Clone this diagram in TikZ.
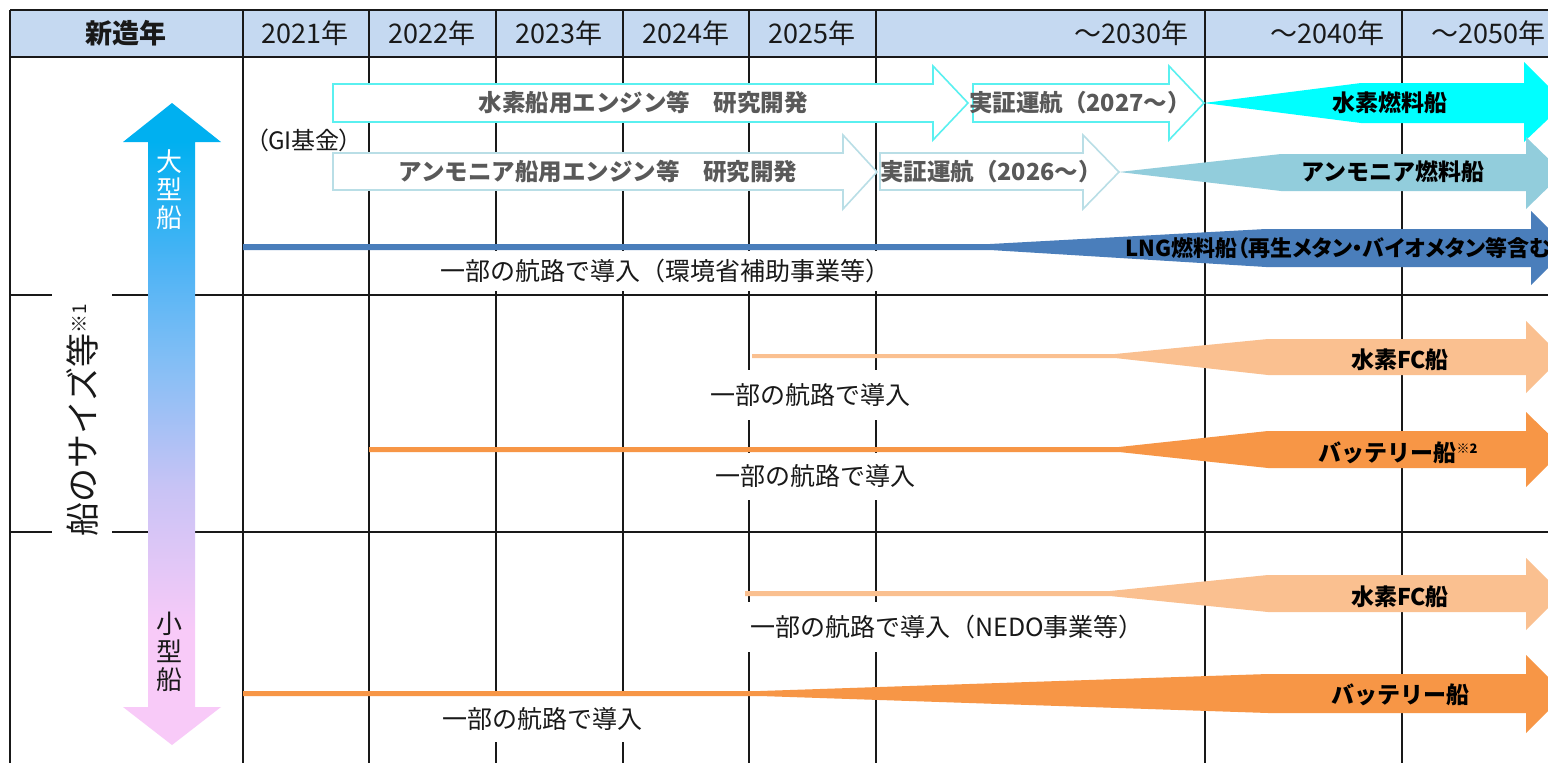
\documentclass[tikz,border=0pt]{standalone}
\usepackage{fontspec}
\setmainfont{Noto Sans CJK JP}
\newfontfamily\propjp{Noto Sans CJK JP}[RawFeature=+palt]
\definecolor{hdrfill}{RGB}{197,217,241}
\definecolor{hcyan}{RGB}{0,255,255}
\definecolor{hcyanline}{RGB}{90,240,240}
\definecolor{amline}{RGB}{185,222,230}
\definecolor{amfill}{RGB}{146,205,220}
\definecolor{lngfill}{RGB}{74,126,187}
\definecolor{fcfill}{RGB}{250,192,144}
\definecolor{batfill}{RGB}{247,150,70}
\definecolor{rdtext}{RGB}{89,89,89}
\definecolor{gridc}{RGB}{25,25,25}
\definecolor{txtc}{RGB}{25,25,25}
\definecolor{shpk}{RGB}{248,202,248}
\definecolor{shlv}{RGB}{200,195,245}
\definecolor{shlba}{RGB}{130,190,245}
\definecolor{shlbb}{RGB}{80,180,245}
\definecolor{shbl}{RGB}{0,176,240}
\pgfdeclareverticalshading{sizeshade}{100bp}{color(0bp)=(shpk); color(25bp)=(shpk); color(34bp)=(shpk); color(45bp)=(shlv); color(55bp)=(shlba); color(62bp)=(shlbb); color(72bp)=(shbl); color(100bp)=(shbl)}
\tikzset{
  gridline/.style={draw=gridc, line width=1.8pt},
  hdrtext/.style={font=\fontsize{27}{30}\selectfont, text=txtc, inner sep=0pt},
  rdH/.style={draw=hcyanline, fill=white, line width=1.6pt},
  rdA/.style={draw=amline, fill=white, line width=1.6pt},
  rdtxt/.style={font=\bfseries\fontsize{23.5}{26}\selectfont, text=rdtext, inner sep=0pt},
  shiptxt/.style={font=\bfseries\fontsize{23}{26}\selectfont, text=black, inner sep=0pt},
  lbl/.style={font=\fontsize{25}{28}\selectfont, text=txtc, fill=white, inner xsep=5pt, inner ysep=0pt},
}
\begin{document}
\begin{tikzpicture}[x=1pt, y=-1pt]
\useasboundingbox (0,0) rectangle (1548,763);
\fill[white] (0,0) rectangle (1548,763);
% header
\fill[hdrfill] (10,10) rectangle (1548,57);
% grid
\draw[gridline] (10,10) -- (1548,10);
\draw[gridline] (10,57) -- (1548,57);
\draw[gridline] (10,295) -- (1548,295);
\draw[gridline] (10,532) -- (1548,532);
\foreach \gx in {10,243,369,496,623,749,876,1205,1402}
  \draw[gridline] (\gx,10) -- (\gx,763);
% header texts
\node[hdrtext, font=\bfseries\fontsize{27}{30}\selectfont] (h0) at (126,33) {新造年};
\node[hdrtext] (h1) at (305,33) {2021年};
\node[hdrtext] (h2) at (432,33) {2022年};
\node[hdrtext] (h3) at (559,33) {2023年};
\node[hdrtext] (h4) at (686,33) {2024年};
\node[hdrtext] (h5) at (812,33) {2025年};
\node[hdrtext, anchor=east] (h6) at (1189,33) {～2030年};
\node[hdrtext, anchor=east] (h7) at (1385,33) {～2040年};
\node[hdrtext, anchor=west] (h8) at (1431,33) {～2050年};
% size axis label
\node[rotate=90, fill=white, minimum width=262pt, minimum height=60pt, inner sep=0pt,
      font=\fontsize{34}{36}\selectfont, text=txtc] (axis) at (82,420)
  {船のサイズ等\raisebox{9pt}{\fontsize{19}{20}\selectfont ※1}};
% gradient arrow
\shade[shading=sizeshade] (148,142) -- (123,142) -- (172,103) -- (221,142) -- (195,142)
  -- (195,707) -- (221,707) -- (172,745) -- (123,707) -- (148,707) -- cycle;
\node[font=\fontsize{26}{28}\selectfont, text=white, align=center, inner sep=0pt] (big) at (169,190) {大\\型\\船};
\node[font=\fontsize{26}{28}\selectfont, text=txtc, align=center, inner sep=0pt] (small) at (169,652) {小\\型\\船};
% labels with white background
\node[lbl, minimum height=40pt] (l1) at (665,271) {一部の航路で導入（環境省補助事業等）};
\node[lbl, minimum height=50pt] (l2) at (810,395) {一部の航路で導入};
\node[lbl, minimum height=47pt] (l3) at (815,476) {一部の航路で導入};
\node[lbl, minimum height=50pt] (l4) at (947,627) {一部の航路で導入（NEDO事業等）};
\node[lbl, minimum height=46pt] (l5) at (542,719) {一部の航路で導入};
\node[font=\propjp\fontsize{24}{26}\selectfont, text=txtc, inner sep=0pt] (gi) at (304,140) {（GI基金）};
% outline R&D arrows
\draw[rdH] (333,84) -- (933,84) -- (933,66) -- (968,103) -- (933,140) -- (933,122) -- (333,122) -- cycle;
\draw[rdH] (973,84) -- (1169,84) -- (1169,66) -- (1204,103) -- (1169,140) -- (1169,122) -- (973,122) -- cycle;
\draw[rdA] (333,153) -- (843,153) -- (843,135) -- (877,172) -- (843,209) -- (843,190) -- (333,190) -- cycle;
\draw[rdA] (880,153) -- (1083,153) -- (1083,135) -- (1119,172) -- (1083,209) -- (1083,190) -- (880,190) -- cycle;
\node[rdtxt] (rd1) at (643,103) {水素船用エンジン等　研究開発};
\node[rdtxt] (dm1) at (1080,103) {実証運航（2027～）};
\node[rdtxt] (rd2) at (598,172) {アンモニア船用エンジン等　研究開発};
\node[rdtxt] (dm2) at (991,172) {実証運航（2026～）};
% solid fuel arrows
\fill[hcyan] (1204,103) -- (1361,83) -- (1524,83) -- (1524,62) -- (1565,103) -- (1524,142) -- (1524,123) -- (1361,123) -- cycle;
\fill[amfill] (1119,172) -- (1281,154) -- (1526,154) -- (1526,137) -- (1563,173) -- (1526,209) -- (1526,191) -- (1281,191) -- cycle;
\fill[lngfill] (243,244) -- (990,244) -- (1266,229) -- (1531,229) -- (1531,211) -- (1568,248) -- (1531,285) -- (1531,267) -- (1266,267) -- (990,250) -- (243,250) -- cycle;
\fill[fcfill] (752,354) -- (1115,354) -- (1268,339) -- (1526,339) -- (1526,321) -- (1562,357) -- (1526,393) -- (1526,375) -- (1268,375) -- (1115,358) -- (752,358) -- cycle;
\fill[batfill] (369,447) -- (1119,447) -- (1268,431) -- (1526,431) -- (1526,412) -- (1564,449) -- (1526,487) -- (1526,468) -- (1268,468) -- (1119,452) -- (369,452) -- cycle;
\fill[fcfill] (745,591) -- (1110,591) -- (1268,575) -- (1526,575) -- (1526,558) -- (1562,594) -- (1526,630) -- (1526,612) -- (1268,612) -- (1110,596) -- (745,596) -- cycle;
\fill[batfill] (243,691) -- (760,691) -- (1268,674) -- (1526,674) -- (1526,655) -- (1565,694) -- (1526,733) -- (1526,713) -- (1268,713) -- (760,696) -- (243,696) -- cycle;
% ship labels
\node[shiptxt] (s1) at (1390,103) {水素燃料船};
\node[shiptxt] (s2) at (1393,172) {アンモニア燃料船};
\node[shiptxt, font=\propjp\bfseries\fontsize{22}{25}\selectfont, anchor=west] (s3) at (1125,248) {LNG燃料船（再生メタン・バイオメタン等含む）};
\node[shiptxt] (s4) at (1400,360) {水素FC船};
\node[shiptxt] (s5) at (1398,453) {バッテリー船\raisebox{8pt}{\fontsize{13}{14}\selectfont ※2}};
\node[shiptxt] (s6) at (1400,597) {水素FC船};
\node[shiptxt] (s7) at (1400,695) {バッテリー船};
\end{tikzpicture}
\end{document}
